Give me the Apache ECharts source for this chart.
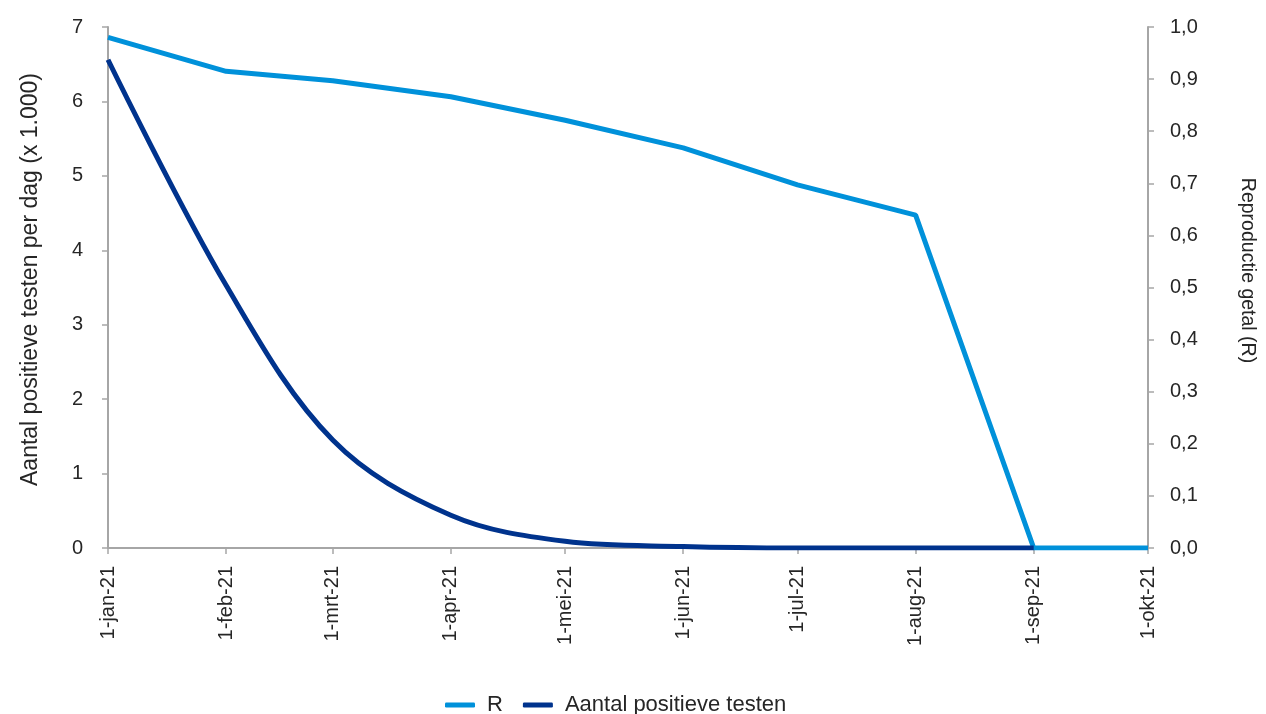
<!DOCTYPE html>
<html>
<head>
<meta charset="utf-8">
<script src="https://cdn.jsdelivr.net/npm/echarts@6/dist/echarts.min.js"></script>
<style>
  html, body { margin: 0; padding: 0; background: #fff; }
  #chart { width: 1266px; height: 714px; }
</style>
</head>
<body>
<div id="chart"></div>
<script>
  const monthNames = ['jan', 'feb', 'mrt', 'apr', 'mei', 'jun', 'jul', 'aug', 'sep', 'okt', 'nov', 'dec'];

  // month starts 2021: 1-jan .. 1-okt (month index)
  const months = [0, 1, 2, 3, 4, 5, 6, 7, 8, 9];
  // Reproductie getal (R), right axis
  const rValues = [0.98, 0.915, 0.897, 0.866, 0.821, 0.768, 0.697, 0.639, 0, 0];
  // Aantal positieve testen per dag (x 1.000), left axis, 1-jan .. 1-sep
  const casesValues = [6.56, 3.53, 1.45, 0.44, 0.09, 0.02, 0, 0, 0];

  const font = '"Liberation Sans", Arial, sans-serif';
  const textColor = '#262626';
  const axisColor = '#a6a6a6';

  const times = months.map(m => new Date(2021, m, 1).getTime());
  const rData = rValues.map((v, i) => [times[i], v]);
  const casesData = casesValues.map((v, i) => [times[i], v]);

  const chart = echarts.init(document.getElementById('chart'));

  chart.setOption({
    animation: false,
    textStyle: { fontFamily: font, color: textColor },
    grid: { left: 108, right: 118, top: 27, bottom: 166 },
    legend: {
      bottom: -7,
      left: 440,
      icon: 'roundRect',
      itemWidth: 30,
      itemHeight: 5,
      itemGap: 20,
      textStyle: { fontFamily: font, fontSize: 22, color: textColor, padding: [0, 0, 0, 7] },
      data: ['R', 'Aantal positieve testen']
    },
    xAxis: {
      type: 'time',
      min: times[0],
      max: times[times.length - 1],
      splitNumber: 9,
      minInterval: 28 * 86400000,
      axisLine: { lineStyle: { color: axisColor, width: 2 } },
      axisTick: { show: true, length: 6, lineStyle: { color: axisColor, width: 1.5 } },
      splitLine: { show: false },
      axisLabel: {
        rotate: 90,
        margin: 18,
        fontSize: 20,
        color: textColor,
        fontFamily: font,
        showMinLabel: true,
        showMaxLabel: true,
        hideOverlap: false,
        formatter: function (val) {
          const d = new Date(val);
          return d.getDate() + '-' + monthNames[d.getMonth()] + '-' + String(d.getFullYear()).slice(2);
        }
      }
    },
    yAxis: [
      {
        type: 'value',
        min: 0,
        max: 7,
        interval: 1,
        name: 'Aantal positieve testen per dag (x 1.000)',
        nameLocation: 'middle',
        nameGap: 66,
        nameTextStyle: { fontSize: 23, color: textColor, fontFamily: font, padding: [0, 0, 0, 16] },
        axisLine: { show: true, lineStyle: { color: axisColor, width: 2 } },
        axisTick: { show: true, length: 6, lineStyle: { color: axisColor, width: 1.5 } },
        splitLine: { show: false },
        axisLabel: { margin: 25, fontSize: 20, color: textColor, fontFamily: font }
      },
      {
        type: 'value',
        min: 0,
        max: 1,
        interval: 0.1,
        position: 'right',
        name: 'Reproductie getal (R)',
        nameLocation: 'middle',
        nameRotate: -90,
        nameGap: 89,
        nameTextStyle: { fontSize: 19.5, color: textColor, fontFamily: font, padding: [0, 34, 0, 0] },
        axisLine: { show: true, lineStyle: { color: axisColor, width: 2 } },
        axisTick: { show: true, length: 6, lineStyle: { color: axisColor, width: 1.5 } },
        splitLine: { show: false },
        axisLabel: {
          margin: 22,
          fontSize: 20,
          color: textColor,
          fontFamily: font,
          formatter: v => v.toFixed(1).replace('.', ',')
        }
      }
    ],
    series: [
      {
        name: 'R',
        type: 'line',
        yAxisIndex: 1,
        data: rData,
        showSymbol: false,
        symbol: 'none',
        color: '#0091DA',
        lineStyle: { width: 5, color: '#0091DA' },
        z: 2
      },
      {
        name: 'Aantal positieve testen',
        type: 'line',
        yAxisIndex: 0,
        data: casesData,
        showSymbol: false,
        symbol: 'none',
        smooth: 0.35,
        color: '#00338D',
        lineStyle: { width: 5, color: '#00338D' },
        z: 3
      }
    ]
  });
</script>
</body>
</html>
